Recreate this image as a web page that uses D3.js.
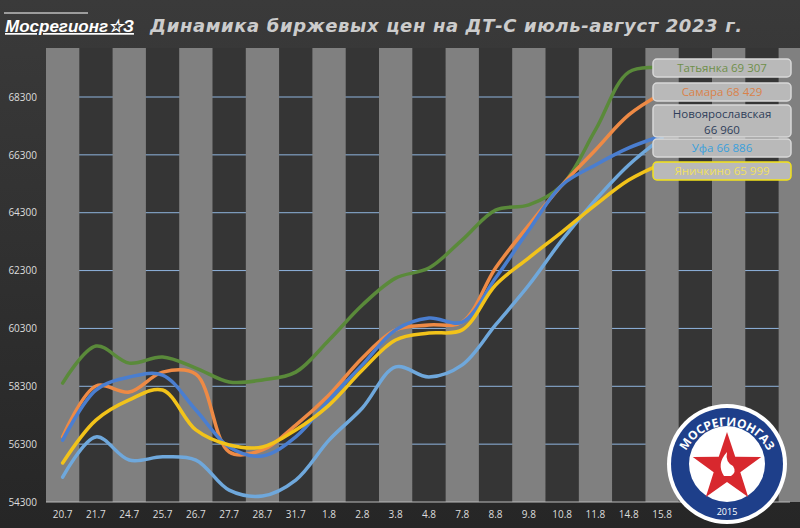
<!DOCTYPE html><html><head><meta charset="utf-8"><script src="https://cdn.jsdelivr.net/npm/d3@7"></script>
<style>body{margin:0;background:#2a2a2a}svg{display:block}</style></head><body><svg id="c" width="800" height="528"></svg>
<script>
const categories=["20.7","21.7","24.7","25.7","26.7","27.7","28.7","31.7","1.8","2.8","3.8","4.8","7.8","8.8","9.8","10.8","11.8","14.8","15.8"];
const yTicks=[54300,56300,58300,60300,62300,64300,66300,68300];
const tatyanka=[58410,59690,59100,59310,58930,58450,58520,58790,59900,61110,62040,62390,63360,64390,64570,65260,67160,69160,69307];
const samara=[56550,58310,58100,58790,58720,56030,56100,56960,58000,59280,60250,60420,60520,62390,63870,65260,66470,67680,68429];
const novoyar=[56440,58170,58620,58690,57480,56200,55890,56550,57830,59040,60250,60660,60520,62040,63700,65260,65950,66540,66960];
const ufa=[55160,56550,55750,55860,55750,54710,54510,55060,56440,57550,58970,58620,59040,60420,61800,63360,64740,65950,66886];
const yanichkino=[55650,57130,57830,58170,56790,56270,56200,56790,57650,58860,59900,60140,60250,61800,62740,63640,64570,65430,65999];
const series=[
 {name:"Татьянка 69 307",v:tatyanka,c:"#5a8a3a",t:"#6f8f4a"},
 {name:"Самара 68 429",v:samara,c:"#ee8a45",t:"#d9824a"},
 {name:"Новоярославская\n66 960",v:novoyar,c:"#4a7ed0",t:"#2f3e5a"},
 {name:"Уфа 66 886",v:ufa,c:"#6fa8dc",t:"#3aa0dc"},
 {name:"Яничкино 65 999",v:yanichkino,c:"#f2c31a",t:"#f0e060"}];
const svg=d3.select("#c");
const defs=svg.append("defs");
const g1=defs.append("linearGradient").attr("id","bg").attr("x1",0).attr("y1",0).attr("x2",0).attr("y2",1);
g1.append("stop").attr("offset",0).attr("stop-color","#3a3a3a");g1.append("stop").attr("offset",1).attr("stop-color","#262626");
svg.append("rect").attr("width",800).attr("height",528).attr("fill","url(#bg)");
const allCats=categories.concat(["e1","e2","e3","e4"]);
const x=d3.scaleBand().domain(allCats).range([46,46+33.3*allCats.length]).padding(0);
const y=d3.scaleLinear().domain([54300,68300]).range([502,97]);
allCats.forEach((c,i)=>{ if(i%2==1) svg.append("rect").attr("x",x(c)).attr("y",48).attr("width",x.bandwidth()).attr("height",454).attr("fill","#353535");});
svg.append("g").selectAll("line").data(yTicks.slice(1)).join("line").attr("x1",46).attr("x2",790).attr("y1",d=>y(d)).attr("y2",d=>y(d)).attr("stroke","#8fb4de").attr("stroke-width",1);
allCats.forEach((c,i)=>{ if(i%2==0) svg.append("rect").attr("x",x(c)).attr("y",48).attr("width",x.bandwidth()).attr("height",454).attr("fill","#808080");});
svg.append("line").attr("x1",46).attr("x2",790).attr("y1",502).attr("y2",502).attr("stroke","#bbb");
const ya=svg.append("g").attr("transform","translate(40,0)").call(d3.axisLeft(y).tickValues(yTicks).tickFormat(d3.format("d")).tickSize(0));
ya.select(".domain").remove();ya.selectAll("text").attr("fill","#ddd").attr("font-size",10).attr("font-family","Open Sans");
const xa=svg.append("g").attr("transform","translate(0,506)").call(d3.axisBottom(x).tickValues(categories).tickSize(0));
xa.select(".domain").remove();xa.selectAll("text").attr("fill","#ddd").attr("font-size",10).attr("font-family","Open Sans").attr("dy","0.9em");
const line=d3.line().x((d,i)=>x(categories[i])+x.bandwidth()/2).y(d=>y(d)).curve(d3.curveCatmullRom.alpha(0.5));
series.forEach(s=>svg.append("path").attr("d",line(s.v)).attr("fill","none").attr("stroke",s.c).attr("stroke-width",3.5).attr("stroke-linecap","round"));
const lb=[{y:59,h:18},{y:83,h:18},{y:105,h:32},{y:139,h:18},{y:162,h:18}];
series.forEach((s,i)=>{const b=lb[i];
 svg.append("rect").attr("x",653).attr("y",b.y).attr("width",138).attr("height",b.h).attr("rx",4).attr("fill","#b9b9b9").attr("stroke",i==4?"#f2e21a":"#d8d8d8").attr("stroke-width",1.5);
 s.name.split("\n").forEach((t,j)=>svg.append("text").attr("x",722).attr("y",b.y+13+j*16).attr("text-anchor","middle").attr("font-family","Open Sans").attr("font-size",11.5).attr("fill",s.t).text(t));});
svg.append("line").attr("x1",4).attr("x2",88).attr("y1",13).attr("y2",13).attr("stroke","#fff");
svg.append("text").attr("x",5).attr("y",32).attr("font-family","Liberation Sans Narrow, Liberation Sans").attr("font-weight","bold").attr("font-style","italic").attr("font-size",17).attr("fill","#fff").attr("text-decoration","underline").text("Мосрегионг☆З");
svg.append("text").attr("x",150).attr("y",32).attr("textLength",592).attr("lengthAdjust","spacing").attr("font-family","DejaVu Sans").attr("font-weight","bold").attr("font-style","italic").attr("font-size",18).attr("fill","#ccc").text("Динамика  биржевых цен на ДТ-С июль-август  2023 г.");
const L=svg.append("g").attr("transform","translate(727,464)");
L.append("circle").attr("r",60).attr("fill","#fff");
L.append("circle").attr("r",56).attr("fill","#1e3f8a");
L.append("circle").attr("r",38).attr("fill","#fff");
const star=d3.range(10).map(i=>{const a=-Math.PI/2+i*Math.PI/5,r=i%2?14:36;return [r*Math.cos(a),r*Math.sin(a)+4];});
L.append("path").attr("d","M"+star.join("L")+"Z").attr("fill","#d8282e");
L.append("path").attr("d","M-3,12 q-8,-12 3,-24 q-2,10 6,14 q4,6 -2,10 z").attr("fill","#fff");
L.append("path").attr("id","arc").attr("d","M-46,8 A46,46 0 0 1 46,8").attr("fill","none");
L.append("text").attr("font-family","Open Sans").attr("font-weight","bold").attr("font-size",12).attr("fill","#fff").append("textPath").attr("href","#arc").attr("startOffset","50%").attr("text-anchor","middle").text("МОСРЕГИОНГАЗ");
L.append("text").attr("y",51).attr("text-anchor","middle").attr("font-family","Open Sans").attr("font-size",9).attr("fill","#fff").text("2015");
</script></body></html>
